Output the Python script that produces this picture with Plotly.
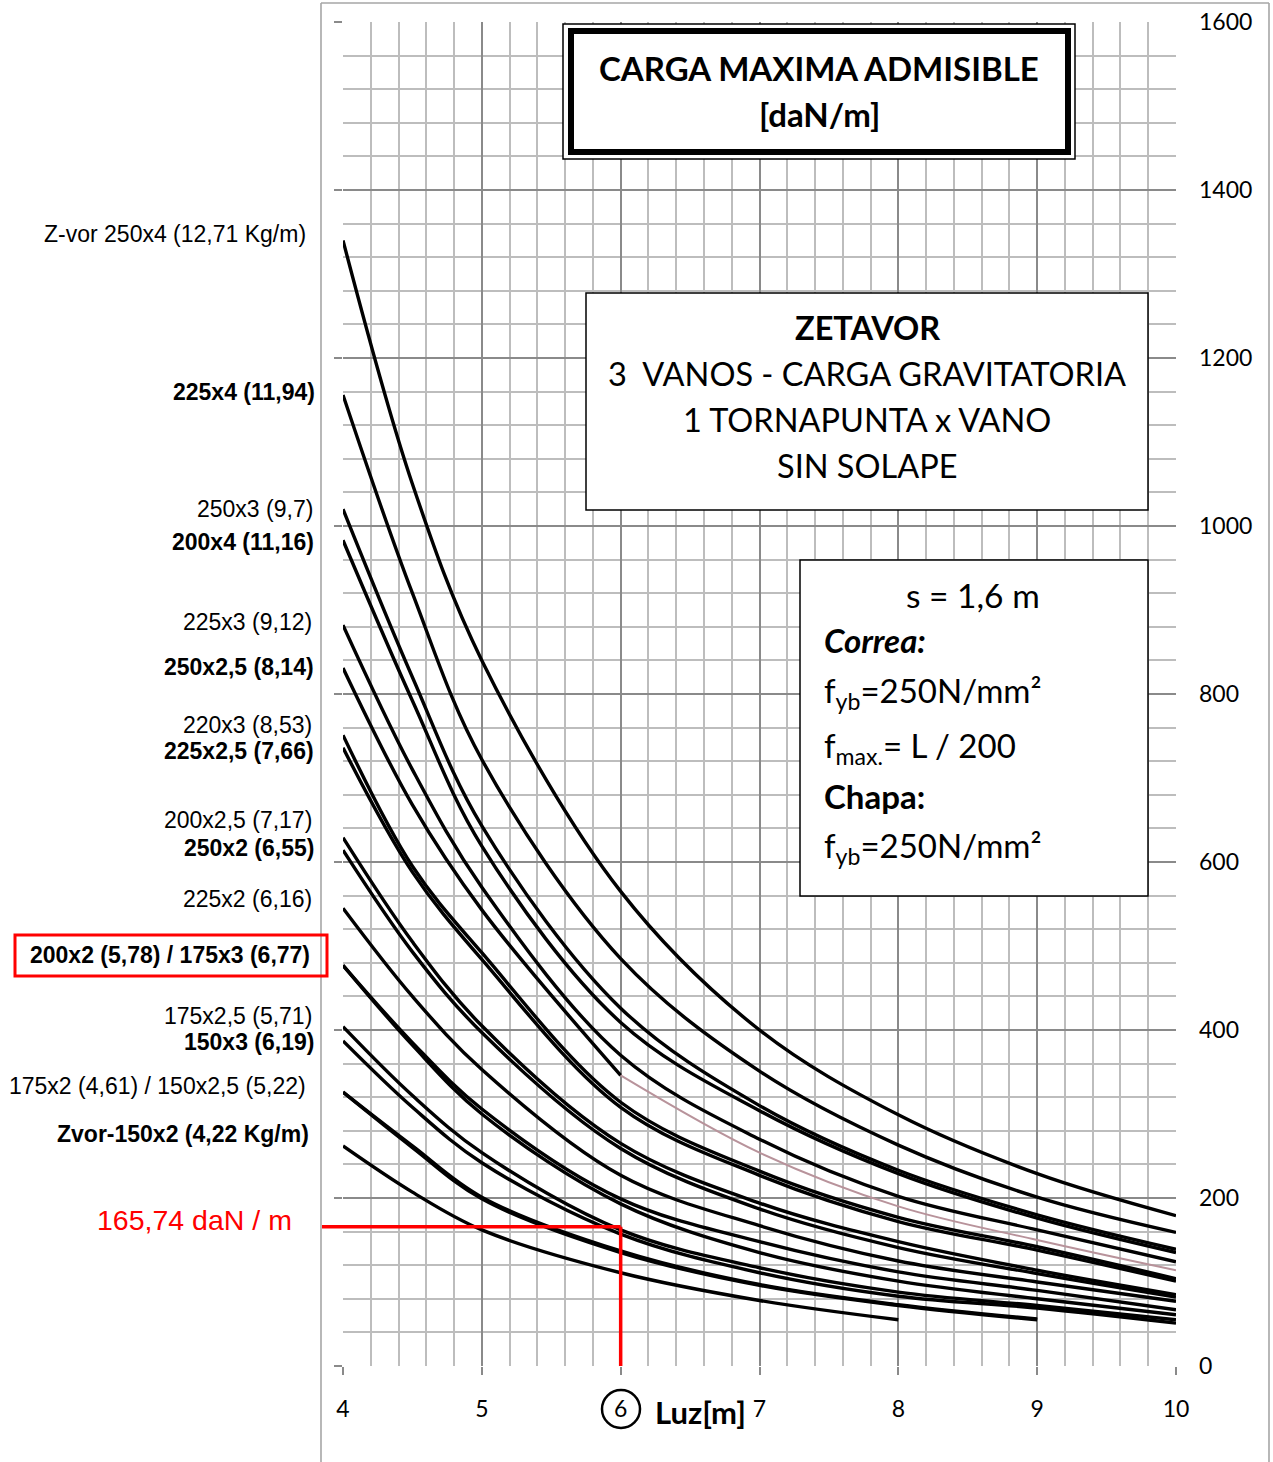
import plotly.graph_objects as go

# ---------------- data ----------------
SPAN = [4, 4.5, 5, 6, 7, 8, 9, 10]          # Luz [m]

Z250x4   = [1340, 1050, 840, 565, 400, 299, 229, 179]
Z225x4   = [1156, 920, 722, 485, 351, 263, 201, 159]
Z250x3   = [1020, 820, 643, 426, 310, 233, 180, 139]
Z200x4   = [983, 792, 619, 409, 304, 229, 176, 135]
Z225x3   = [882, 710, 570, 370, 270, 202, 162, 124]
Z250x25  = [831, 668, 543, 346, 254, 190, 150, 114]
Z220x3   = [751, 595, 492, 314, 232, 177, 142, 104]
Z225x25  = [736, 588, 484, 308, 227, 172, 138, 101]
Z200x25  = [629, 505, 405, 265, 194, 148, 114, 85]
Z250x2   = [614, 493, 397, 259, 187, 141, 110, 82]
Z225x2   = [545, 440, 353, 227, 167, 125, 100, 77]
Z200x2   = [477, 385, 306, 199, 148, 112, 90, 67]
Z175x3   = [477, 382, 300, 193, 135, 101, 80, 61]
Z175x25  = [404, 322, 254, 162, 117, 88, 72, 55]
Z150x3   = [387, 308, 242, 157, 111, 83, 69, 51]
Z175x2   = [326, 262, 201, 137, 97, 73, 56]          # ends at 9 m
Z150x25  = [326, 260, 199, 135, 96, 72, 55]          # ends at 9 m
Z150x2   = [262, 207, 162, 111, 78, 55]              # ends at 8 m

SERIES = [Z250x4, Z225x4, Z250x3, Z200x4, Z225x3, Z220x3, Z225x25,
          Z200x25, Z250x2, Z225x2, Z200x2, Z175x3, Z175x25, Z150x3,
          Z175x2, Z150x25, Z150x2]

MARK_SPAN = 6
MARK_LOAD = 165.74

Y_TICKS = [0, 200, 400, 600, 800, 1000, 1200, 1400, 1600]
X_TICKS = [4, 5, 6, 7, 8, 9, 10]

LEFT_LABELS = [
    ("Z-vor 250x4 (12,71 Kg/m)", False, 308, 234),
    ("225x4 (11,94)", True, 317, 392),
    ("250x3 (9,7)", False, 315, 509),
    ("200x4 (11,16)", True, 316, 542),
    ("225x3 (9,12)", False, 314, 622),
    ("250x2,5 (8,14)", True, 316, 667),
    ("220x3 (8,53)", False, 314, 725),
    ("225x2,5 (7,66)", True, 316, 751),
    ("200x2,5 (7,17)", False, 314, 820),
    ("250x2 (6,55)", True, 316, 848),
    ("225x2 (6,16)", False, 314, 899),
    ("200x2 (5,78) / 175x3 (6,77)", True, 312, 955),
    ("175x2,5 (5,71)", False, 314, 1016),
    ("150x3 (6,19)", True, 316, 1042),
    ("175x2 (4,61) / 150x2,5 (5,22)", False, 308, 1086),
    ("Zvor-150x2 (4,22 Kg/m)", True, 311, 1134),
]

# ---------------- geometry helpers ----------------
W, H = 1273, 1462
L, R, T, B = 343, 1176, 22, 1366


def px(x):
    return (x - L) / (R - L)


def py(y):
    return (B - y) / (B - T)


fig = go.Figure()

LW = 3.4
for s in SERIES:
    fig.add_trace(go.Scatter(x=SPAN[:len(s)], y=s, mode="lines",
                             line=dict(color="black", width=LW, shape="spline", smoothing=1.0),
                             hoverinfo="skip", showlegend=False))

# 250x2,5 : black at the start, thin pinkish further right
fig.add_trace(go.Scatter(x=SPAN[:4], y=Z250x25[:4], mode="lines",
                         line=dict(color="black", width=LW, shape="spline", smoothing=1.0),
                         hoverinfo="skip", showlegend=False))
fig.add_trace(go.Scatter(x=SPAN[3:], y=Z250x25[3:], mode="lines",
                         line=dict(color="#b8939b", width=2, shape="spline", smoothing=1.0),
                         hoverinfo="skip", showlegend=False))

# invisible trace to carry the right-hand axis
fig.add_trace(go.Scatter(x=[SPAN[0]], y=[Y_TICKS[0]], yaxis="y2", mode="markers",
                         marker=dict(opacity=0), hoverinfo="skip", showlegend=False))

shapes = []
# red marker lines
shapes.append(dict(type="line", xref="paper", yref="y", x0=px(322), x1=(MARK_SPAN - 4) / 6,
                   y0=MARK_LOAD, y1=MARK_LOAD, line=dict(color="#ff0000", width=3.5), layer="above"))
shapes.append(dict(type="line", xref="x", yref="y", x0=MARK_SPAN, x1=MARK_SPAN,
                   y0=0, y1=MARK_LOAD, line=dict(color="#ff0000", width=3.5), layer="above"))

# outer chart frame
frame = dict(color="#a6a6a6", width=1.6)
shapes.append(dict(type="line", xref="paper", yref="paper", x0=px(321), x1=px(321),
                   y0=py(3), y1=py(1470), line=frame))
shapes.append(dict(type="line", xref="paper", yref="paper", x0=px(1269), x1=px(1269),
                   y0=py(3), y1=py(1470), line=frame))
shapes.append(dict(type="line", xref="paper", yref="paper", x0=px(321), x1=px(1269),
                   y0=py(3), y1=py(3), line=frame))

# title box (double border)
shapes.append(dict(type="rect", xref="paper", yref="paper", x0=px(563), x1=px(1075),
                   y0=py(24), y1=py(159), line=dict(color="black", width=1.5),
                   fillcolor="white", layer="above"))
shapes.append(dict(type="rect", xref="paper", yref="paper", x0=px(571), x1=px(1068),
                   y0=py(31), y1=py(152), line=dict(color="black", width=6), layer="above"))
# ZETAVOR box
shapes.append(dict(type="rect", xref="paper", yref="paper", x0=px(586), x1=px(1148),
                   y0=py(293), y1=py(510), line=dict(color="black", width=1.5),
                   fillcolor="white", layer="above"))
# info box
shapes.append(dict(type="rect", xref="paper", yref="paper", x0=px(800), x1=px(1148),
                   y0=py(560), y1=py(896), line=dict(color="black", width=1.5),
                   fillcolor="white", layer="above"))
# red box around a label
shapes.append(dict(type="rect", xref="paper", yref="paper", x0=px(15), x1=px(327),
                   y0=py(935), y1=py(976), line=dict(color="#ff0000", width=3)))
# circle around the "6"
shapes.append(dict(type="circle", xref="paper", yref="paper", x0=px(602), x1=px(640),
                   y0=py(1390), y1=py(1428), line=dict(color="black", width=2.5)))

ann = []


def add_text(text, x, y, size, family="Lato", color="black", xanchor="center"):
    ann.append(dict(text=text, x=px(x), y=py(y), xref="paper", yref="paper",
                    xanchor=xanchor, yanchor="middle", showarrow=False,
                    font=dict(family=family, size=size, color=color)))


for txt, bold, xr, yy in LEFT_LABELS:
    add_text("<b>%s</b>" % txt if bold else txt, xr, yy, 23,
             family="Liberation Sans", xanchor="right")

add_text("165,74 daN / m", 294, 1220, 28.5, family="Liberation Sans",
         color="#ff0000", xanchor="right")

add_text("<b>CARGA MAXIMA ADMISIBLE</b>", 819, 68, 33)
add_text("<b>[daN/m]</b>", 819, 114, 33)

add_text("<b>ZETAVOR</b>", 867, 328, 32.5)
add_text("3  VANOS - CARGA GRAVITATORIA", 867, 373, 32.5)
add_text("1 TORNAPUNTA x VANO", 867, 419, 32.5)
add_text("SIN SOLAPE", 867, 465, 32.5)

add_text("s = 1,6 m", 973, 595, 33.5)
add_text("<b><i>Correa:</i></b>", 822, 640, 33, xanchor="left")
add_text("f<sub>yb</sub>=250N/mm²", 822, 692, 33, xanchor="left")
add_text("f<sub>max.</sub>= L / 200", 822, 747, 33, xanchor="left")
add_text("<b>Chapa:</b>", 822, 796, 33, xanchor="left")
add_text("f<sub>yb</sub>=250N/mm²", 822, 847, 33, xanchor="left")

add_text("<b>Luz[m]</b>", 700, 1412, 31)

major = "#8a8a8a"
minor = "#bdbdbd"

fig.update_layout(
    width=W, height=H,
    margin=dict(l=L, r=W - R, t=T, b=H - B, pad=0, autoexpand=False),
    paper_bgcolor="white", plot_bgcolor="white",
    showlegend=False,
    shapes=shapes, annotations=ann,
    xaxis=dict(range=[4, 10], tickvals=X_TICKS, ticktext=[str(v) for v in X_TICKS],
               automargin=False,
               showgrid=True, gridcolor=major, gridwidth=1.8,
               minor=dict(dtick=0.2, showgrid=True, gridcolor=minor, gridwidth=1.7, ticks=""),
               zeroline=False, showline=False,
               ticks="outside", ticklen=8, tickcolor=major, tickwidth=1.8,
               ticklabelstandoff=14,
               tickfont=dict(family="Lato", size=23, color="black")),
    yaxis=dict(range=[0, 1600], tickvals=Y_TICKS, showticklabels=False,
               automargin=False,
               showgrid=True, gridcolor=major, gridwidth=1.8,
               minor=dict(dtick=40, showgrid=True, gridcolor=minor, gridwidth=1.7, ticks=""),
               zeroline=False, showline=False,
               ticks="outside", ticklen=8, tickcolor=major, tickwidth=1.8),
    yaxis2=dict(range=[0, 1600], tickvals=Y_TICKS, overlaying="y", side="right", anchor="x",
                automargin=False,
                showgrid=False, zeroline=False, showline=False, ticks="",
                ticklabelstandoff=22,
                tickfont=dict(family="Lato", size=23, color="black")),
)

fig.write_html("out.html", config={"displayModeBar": False},
               post_script="document.body.style.margin='0';")
